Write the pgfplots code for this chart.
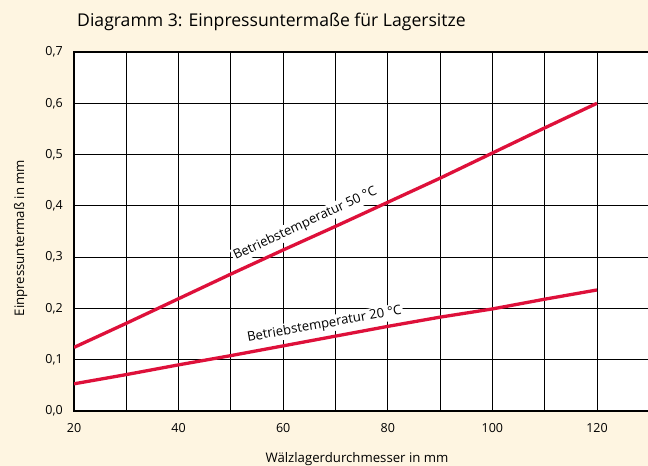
\documentclass[border=0pt]{standalone}
\usepackage{pgfplots}
\pgfplotsset{compat=1.18}
\usepackage{fontspec}
\setmainfont{Open Sans}
\definecolor{cream}{RGB}{254,245,225}
\definecolor{lred}{RGB}{222,16,58}
\begin{document}
\begin{tikzpicture}[x=1bp,y=1bp]
\path[use as bounding box] (0,0) rectangle (648,466);
\fill[cream] (0,0) rectangle (648,466);
\node[anchor=base west, inner sep=0pt, font=\fontsize{17.6bp}{19bp}\selectfont] at (77,439.3) {Diagramm 3: Einpressuntermaße für Lagersitze};
\node[anchor=base, inner sep=0pt, font=\fontsize{13.2bp}{15bp}\selectfont] at (357,3) {Wälzlagerdurchmesser in mm};
\node[anchor=base, rotate=90, inner sep=0pt, font=\fontsize{13.2bp}{15bp}\selectfont] at (24,228) {Einpressuntermaß in mm};
\begin{scope}
\clip (0,0) rectangle (648,466);
\begin{axis}[
  at={(74bp,55bp)}, anchor=south west,
  scale only axis, width=580.5bp, height=359bp,
  xmin=20, xmax=131, ymin=0, ymax=0.7,
  axis background/.style={fill=white},
  xtick={20,40,60,80,100,120}, minor xtick={30,50,70,90,110,130},
  ytick={0,0.1,0.2,0.3,0.4,0.5,0.6,0.7},
  grid=both,
  major grid style={black, line width=0.9bp},
  minor grid style={black, line width=0.9bp},
  major tick length=0pt, minor tick length=0pt,
  axis line style={black, line width=1.8bp},
  tick label style={font=\fontsize{12.5bp}{14bp}\selectfont},
  /pgf/number format/assume math mode=true,
  yticklabel style={/pgf/number format/use comma, /pgf/number format/fixed, /pgf/number format/fixed zerofill, /pgf/number format/precision=1},
  yticklabel style={anchor=east, inner sep=0pt, xshift=-11bp},
  xticklabel style={anchor=north, inner sep=0pt, yshift=-12bp},
]
\addplot[lred, line width=3.3bp, line join=round] coordinates {
(20,0.124)(30,0.171)(40,0.219)(50,0.267)(60,0.314)(70,0.360)(80,0.407)(90,0.454)(100,0.503)(110,0.552)(120,0.600)
};
\addplot[lred, line width=3.3bp, line join=round] coordinates {
(20,0.053)(30,0.071)(40,0.090)(50,0.108)(60,0.127)(70,0.146)(80,0.165)(90,0.183)(100,0.199)(110,0.218)(120,0.236)
};
\node[anchor=base, rotate=25, fill=white, inner sep=1.5bp, font=\fontsize{13.1bp}{15bp}\selectfont] at (axis cs:64.5,0.359) {Betriebstemperatur 50 °C};
\node[anchor=base, rotate=10, fill=white, inner sep=1.5bp, font=\fontsize{13.1bp}{15bp}\selectfont] at (axis cs:68,0.162) {Betriebstemperatur 20 °C};
\end{axis}
\end{scope}
\end{tikzpicture}
\end{document}
